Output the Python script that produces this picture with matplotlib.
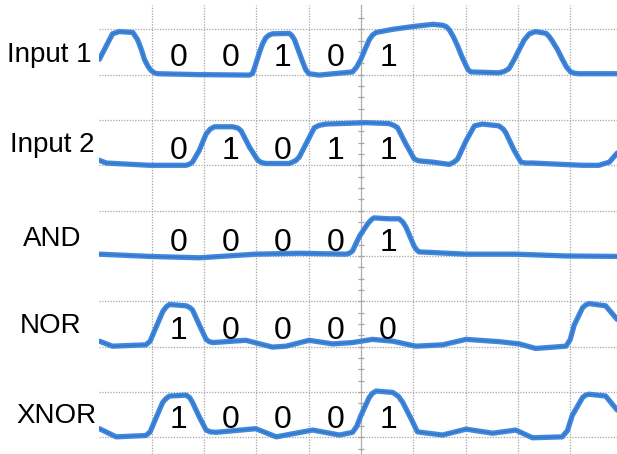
import matplotlib
matplotlib.use('Agg')
import matplotlib.pyplot as plt

plt.rcParams['font.family'] = ['Liberation Sans', 'DejaVu Sans']

# channel names (top to bottom) and their baseline level on the screen
names = ['Input 1', 'Input 2', 'AND', 'NOR', 'XNOR']
base = [8, 6, 4, 2, 0]

# traces: time in divisions, level 0 = low, 1 = high
t_in1 = [0.0, 0.13, 0.25, 0.38, 0.64, 0.73, 0.8, 0.86, 0.93, 0.99, 1.05, 1.11, 1.91, 2.87,
         2.93, 2.98, 3.06, 3.12, 3.18, 3.24, 3.31, 3.63, 3.68, 3.73, 3.81, 3.89, 3.95, 4.01,
         4.2, 4.84, 4.92, 5.0, 5.08, 5.16, 5.22, 5.29, 5.61, 5.99, 6.37, 6.56, 6.63, 6.69,
         6.77, 6.85, 6.93, 7.01, 7.05, 7.1, 7.64, 7.74, 7.83, 7.93, 8.03, 8.12, 8.22, 8.34,
         8.54, 8.6, 8.66, 8.76, 8.85, 8.93, 9.01, 9.09, 9.17, 9.9]
v_in1 = [0.34, 0.63, 0.9, 0.95, 0.93, 0.77, 0.56, 0.34, 0.18, 0.09, 0.04, 0.02, 0.0, -0.01,
         0.03, 0.2, 0.49, 0.68, 0.81, 0.87, 0.9, 0.91, 0.86, 0.77, 0.52, 0.27, 0.1, 0.02,
         -0.01, 0.06, 0.17, 0.34, 0.56, 0.77, 0.87, 0.93, 1.0, 1.06, 1.11, 1.09, 1.06, 0.99,
         0.83, 0.63, 0.4, 0.2, 0.11, 0.06, 0.04, 0.07, 0.13, 0.33, 0.56, 0.76, 0.9, 0.95,
         0.91, 0.84, 0.74, 0.55, 0.34, 0.17, 0.06, 0.03, 0.02, 0.02]

t_in2 = [0.0, 0.13, 0.96, 1.66, 1.73, 1.78, 1.91, 2.04, 2.12, 2.2, 2.55, 2.65, 2.71, 2.87,
         3.03, 3.1, 3.18, 3.63, 3.75, 3.82, 3.98, 4.11, 4.2, 4.33, 5.1, 5.54, 5.63, 5.7, 5.86,
         6.02, 6.1, 6.18, 6.37, 6.69, 6.78, 6.85, 7.01, 7.17, 7.32, 7.64, 7.72, 7.77, 7.93,
         8.06, 8.15, 8.28, 9.24, 9.55, 9.75, 9.9]
v_in2 = [0.11, 0.05, 0.0, 0.0, 0.03, 0.07, 0.33, 0.69, 0.8, 0.85, 0.85, 0.82, 0.76, 0.4,
         0.11, 0.06, 0.04, 0.04, 0.1, 0.18, 0.54, 0.83, 0.88, 0.91, 0.94, 0.92, 0.88, 0.83, 0.47,
         0.14, 0.1, 0.09, 0.07, 0.02, 0.07, 0.14, 0.54, 0.87, 0.91, 0.87, 0.8, 0.72, 0.33,
         0.07, 0.05, 0.05, 0.0, 0.0, 0.07, 0.27]

t_and = [0.0, 0.96, 1.91, 2.99, 3.82, 4.71, 4.78, 4.84, 4.97, 5.13, 5.2, 5.25, 5.54, 5.73,
         5.8, 5.86, 6.02, 6.07, 6.11, 7.01, 7.96, 8.92, 9.9]
v_and = [0.04, -0.01, -0.04, 0.04, 0.06, 0.04, 0.06, 0.11, 0.43, 0.71, 0.8, 0.84, 0.82, 0.82,
         0.75, 0.64, 0.21, 0.13, 0.09, 0.04, 0.04, 0.0, -0.01]

t_nor = [0.0, 0.25, 0.89, 0.97, 1.05, 1.21, 1.28, 1.34, 1.66, 1.73, 1.78, 1.91, 2.04, 2.1,
         2.17, 2.8, 3.31, 3.57, 4.01, 4.46, 4.84, 5.22, 5.61, 6.05, 6.56, 7.01, 7.64, 8.03,
         8.34, 8.92, 9.0, 9.08, 9.24, 9.3, 9.36, 9.68, 9.9]
v_nor = [0.12, 0.01, 0.04, 0.12, 0.34, 0.77, 0.88, 0.93, 0.9, 0.86, 0.81, 0.48, 0.16, 0.11,
         0.09, 0.14, -0.01, 0.01, 0.14, 0.06, 0.09, 0.16, 0.12, 0.01, 0.04, 0.16, 0.11, 0.06,
         -0.04, 0.01, 0.15, 0.48, 0.86, 0.92, 0.95, 0.9, 0.6]

t_xnor = [0.0, 0.32, 0.89, 0.97, 1.05, 1.21, 1.28, 1.34, 1.66, 1.73, 1.78, 1.91, 2.04, 2.12,
          2.23, 2.99, 3.38, 4.08, 4.59, 4.84, 4.92, 5.0, 5.16, 5.22, 5.29, 5.61, 5.72, 5.8,
          5.96, 6.08, 6.56, 7.01, 7.52, 7.96, 8.28, 8.85, 8.95, 9.04, 9.24, 9.3, 9.36, 9.68,
          9.9]
v_xnor = [0.19, 0.01, 0.04, 0.12, 0.34, 0.77, 0.86, 0.91, 0.93, 0.87, 0.77, 0.45, 0.16, 0.12,
          0.11, 0.19, 0.01, 0.16, 0.05, 0.11, 0.24, 0.48, 0.88, 0.97, 1.02, 0.99, 0.9, 0.77,
          0.41, 0.12, 0.05, 0.18, 0.09, 0.16, -0.01, 0.01, 0.15, 0.48, 0.88, 0.93, 0.95, 0.91,
          0.6]

traces = [(t_in1, v_in1), (t_in2, v_in2), (t_and, v_and), (t_nor, v_nor), (t_xnor, v_xnor)]

# logic values written over each trace
bits = [['0', '0', '1', '0', '1'],
        ['0', '1', '0', '1', '1'],
        ['0', '0', '0', '0', '1'],
        ['1', '0', '0', '0', '0'],
        ['1', '0', '0', '0', '1']]
bit_x = [1.52, 2.5, 3.51, 4.51, 5.52]
bit_y = [8.18, 6.14, 4.11, 2.17, 0.2]

# label positions in pixels (centre x, baseline y)
label_x = [49.5, 52.5, 52.5, 51, 56]
label_y = [61.7, 151.7, 246, 333.3, 423.3]

W, H = 617, 454
fig = plt.figure(figsize=(W / 100, H / 100), dpi=100)
ax = fig.add_axes([99.4 / W, 0, 1 - 99.4 / W, 449 / H])
ax.set_xlim(0, (W - 99.4) / 52.3)
ax.set_ylim(-(H - 437.3) / 45.33, 9 + (29.3 - 5) / 45.33)

grid_col = '#a6a6a6'
for k in range(1, 10):
    if k != 5:
        ax.axvline(k, color=grid_col, lw=0.9, ls=(0, (1, 1.2)), zorder=1)
for k in range(10):
    ax.axhline(k, color=grid_col, lw=0.9, ls=(0, (1, 1.2)), zorder=1)

# centre axis with little ticks, like on the scope screen
ax.spines['left'].set_position(('data', 5))
ax.spines['left'].set_color(grid_col)
ax.spines['left'].set_linestyle((0, (1, 1.2)))
ax.spines['left'].set_linewidth(0.9)
for s in ['top', 'right', 'bottom']:
    ax.spines[s].set_visible(False)
ax.set_yticks([k / 4 for k in range(-1, 38)])
ax.tick_params(axis='y', direction='inout', length=4, width=0.9, color=grid_col,
               labelleft=False)
ax.set_xticks([])

for (t, v), b in zip(traces, base):
    y = [b + val for val in v]
    ax.plot(t, y, color='#3f88de', lw=3.8, solid_capstyle='round',
            solid_joinstyle='round', zorder=3)
    ax.plot(t, y, color='#1d4f94', lw=0.9, alpha=0.35, solid_joinstyle='round', zorder=4)

for row, yb in zip(bits, bit_y):
    for xb, s in zip(bit_x, row):
        ax.text(xb, yb, s, fontsize=23, ha='center', va='baseline', zorder=5)

for name, lx, ly in zip(names, label_x, label_y):
    fig.text(lx / W, 1 - ly / H, name, fontsize=20, ha='center', va='baseline')

fig.savefig('out.png', dpi=100)
